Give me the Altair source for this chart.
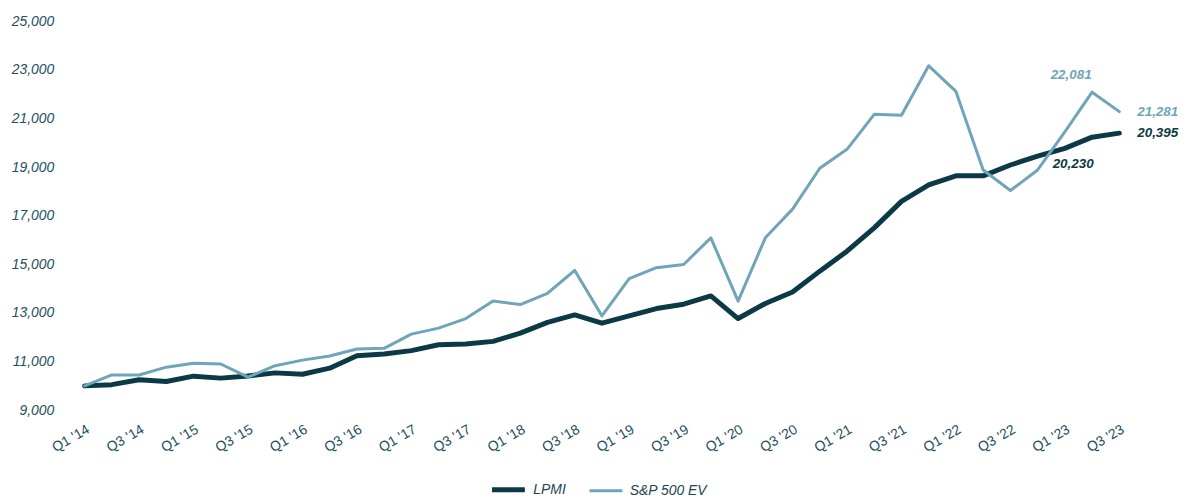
import altair as alt
import pandas as pd

quarters = [
    "Q1 '14", "Q2 '14", "Q3 '14", "Q4 '14",
    "Q1 '15", "Q2 '15", "Q3 '15", "Q4 '15",
    "Q1 '16", "Q2 '16", "Q3 '16", "Q4 '16",
    "Q1 '17", "Q2 '17", "Q3 '17", "Q4 '17",
    "Q1 '18", "Q2 '18", "Q3 '18", "Q4 '18",
    "Q1 '19", "Q2 '19", "Q3 '19", "Q4 '19",
    "Q1 '20", "Q2 '20", "Q3 '20", "Q4 '20",
    "Q1 '21", "Q2 '21", "Q3 '21", "Q4 '21",
    "Q1 '22", "Q2 '22", "Q3 '22", "Q4 '22",
    "Q1 '23", "Q2 '23", "Q3 '23",
]
lpmi = [10000, 10050, 10250, 10180, 10400, 10320, 10410, 10535, 10480, 10730,
        11240, 11310, 11450, 11690, 11720, 11830, 12170, 12610, 12920, 12580,
        12880, 13180, 13360, 13700, 12770, 13390, 13860, 14720, 15540, 16500,
        17590, 18270, 18640, 18640, 19085, 19450, 19770, 20230, 20395]
sp500_ev = [10000, 10450, 10450, 10770, 10930, 10900, 10360, 10830, 11060, 11230,
            11520, 11545, 12130, 12375, 12770, 13490, 13345, 13810, 14750, 12880,
            14410, 14860, 14995, 16090, 13490, 16090, 17270, 18950, 19730, 21170,
            21130, 23165, 22110, 18880, 18035, 18880, 20450, 22081, 21281]
series_names = ["LPMI", "S&P 500 EV"]
y_ticks = [9000, 11000, 13000, 15000, 17000, 19000, 21000, 23000, 25000]
x_tick_labels = quarters[::2]

DARK = "#0b3a46"
LIGHT = "#6fa5b8"
AXIS_COLOR = "#24505f"
FONT = "Liberation Sans"

rows = []
for q, v in zip(quarters, lpmi):
    rows.append({"quarter": q, "series": series_names[0], "value": v})
for q, v in zip(quarters, sp500_ev):
    rows.append({"quarter": q, "series": series_names[1], "value": v})
df = pd.DataFrame(rows)

x = alt.X(
    "quarter:O", sort=quarters,
    scale=alt.Scale(type="point", padding=0),
    axis=alt.Axis(values=x_tick_labels, labelAngle=-30, labelAlign="right",
                  labelBaseline="top", labelPadding=12, labelFontSize=14,
                  labelColor=AXIS_COLOR, labelFont=FONT, domain=False,
                  ticks=False, grid=False, title=None, labelOverlap=False),
)
y = alt.Y(
    "value:Q",
    scale=alt.Scale(domain=[9000, 25000], nice=False, zero=False),
    axis=alt.Axis(values=y_ticks, format=",.0f", labelFontStyle="italic",
                  labelFontSize=14, labelPadding=31, labelColor=AXIS_COLOR,
                  labelFont=FONT, domain=False, ticks=False, grid=False,
                  title=None),
)
legend = alt.Legend(
    title=None, orient="none", legendX=407, legendY=452,
    direction="horizontal", symbolType="stroke", symbolSize=1089,
    labelFontSize=14, labelFontStyle="italic", labelColor="#1d4452",
    labelFont=FONT, labelOffset=6, columnPadding=17,
)
color = alt.Color("series:N", scale=alt.Scale(domain=series_names, range=[DARK, LIGHT]),
                  legend=legend)
sw = alt.StrokeWidth("series:N", scale=alt.Scale(domain=series_names, range=[5, 3]),
                     legend=legend)

base = alt.Chart(df).encode(x=x, y=y, color=color, strokeWidth=sw)
line_lpmi = base.transform_filter(alt.datum.series == series_names[0]).mark_line(
    strokeCap="round", strokeJoin="round")
line_sp = base.transform_filter(alt.datum.series == series_names[1]).mark_line(
    strokeCap="round", strokeJoin="round")


def label(q, s, col, dx, dy, align):
    return alt.Chart(df).transform_filter(
        (alt.datum.quarter == q) & (alt.datum.series == s)
    ).mark_text(
        dx=dx, dy=dy, align=align, baseline="middle", fontSize=13.5,
        fontWeight="bold", fontStyle="italic", font=FONT, color=col,
    ).encode(x=x, y=y, text=alt.Text("value:Q", format=",.0f"))


labels = [
    label("Q2 '23", series_names[1], LIGHT, -21, -17, "center"),
    label("Q2 '23", series_names[0], DARK, -19, 27, "center"),
    label("Q3 '23", series_names[1], LIGHT, 18, 0, "left"),
    label("Q3 '23", series_names[0], DARK, 18, 0, "left"),
]

chart = alt.layer(line_lpmi, line_sp, *labels).properties(
    width=1040, height=391,
    padding={"left": 3, "top": 5, "right": 0, "bottom": 0},
).configure(font=FONT).configure_view(stroke=None)

chart.save("out.html", embed_options={"renderer": "svg", "actions": False})
